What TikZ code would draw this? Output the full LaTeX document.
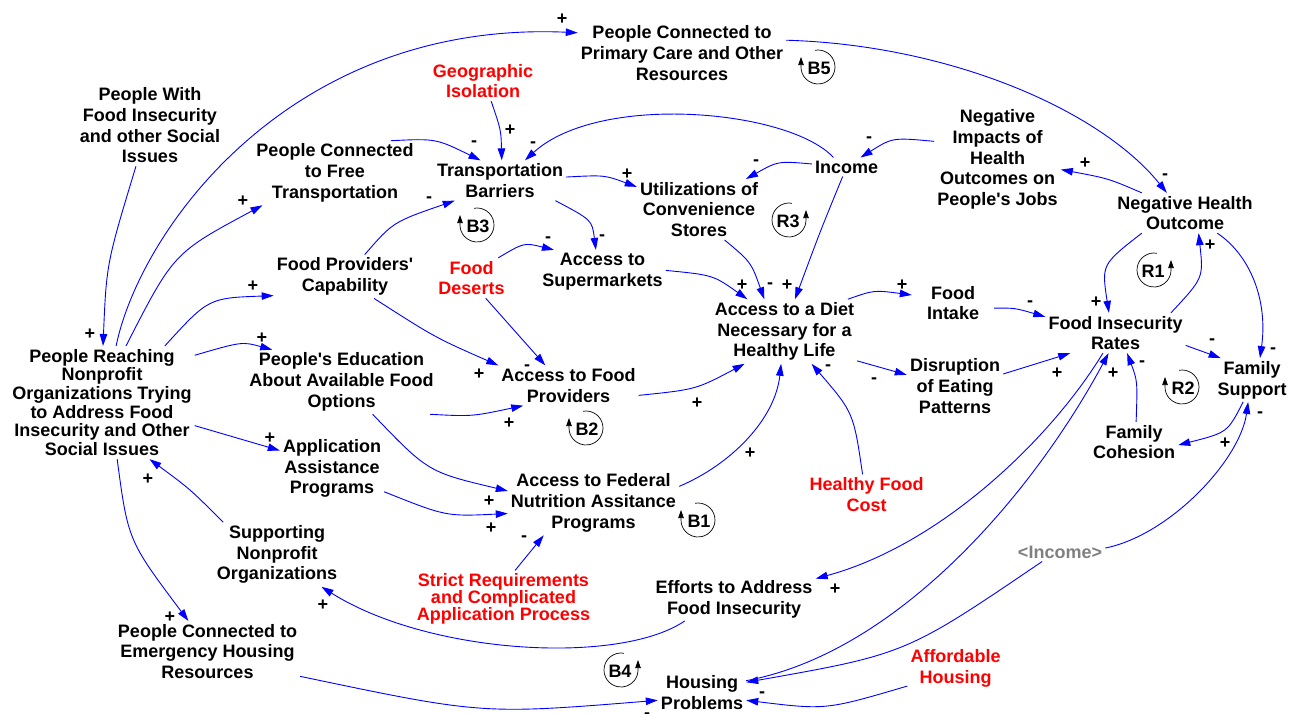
\documentclass[tikz,border=0pt]{standalone}
\usepackage{fontspec}
\setmainfont{Liberation Sans}
\usetikzlibrary{arrows.meta}
\definecolor{linkblue}{RGB}{0,0,255}
\definecolor{exored}{RGB}{255,0,0}
\definecolor{shadowgray}{RGB}{128,128,128}
\newcommand{\apos}{\textquotesingle}
\tikzset{
  var/.style={align=center, font=\fontsize{18}{20.7}\selectfont\bfseries, inner sep=3pt},
  exo/.style={var, text=exored},
  shadowvar/.style={var, text=shadowgray},
  link/.style={draw=linkblue, line width=0.9pt, -{Triangle[length=12pt,width=7.5pt]}},
  pol/.style={font=\fontsize{18}{20}\selectfont\bfseries, inner sep=0pt, anchor=base},
  loopc/.style={draw=black, line width=0.7pt, -{Triangle[length=8pt,width=5.5pt]}},
  looplabel/.style={font=\fontsize{18}{20}\selectfont\bfseries, inner sep=0pt},
}
\begin{document}
\begin{tikzpicture}[x=1pt,y=-1pt]
\fill[white] (0,0) rectangle (1298,713);
\useasboundingbox (0,0) rectangle (1298,713);

% variables
\node[var] (pcpc) at (682,53) {People Connected to\\Primary Care and Other\\Resources};
\node[exo] (geo) at (483,81) {Geographic\\Isolation};
\node[var] (pwfi) at (150,125.5) {People With\\Food Insecurity\\and other Social\\Issues};
\node[var] (pcft) at (335,173) {People Connected\\to Free\\Transportation};
\node[var] (tb) at (500,180.5) {Transportation\\Barriers};
\node[var] (ucs) at (699,209.5) {Utilizations of\\Convenience\\Stores};
\node[var] (inc) at (846.5,167) {Income};
\node[var] (nih) at (997.5,159.5) {Negative\\Impacts of\\Health\\Outcomes on\\People\apos s Jobs};
\node[var] (nho) at (1185,213) {Negative Health\\Outcome};
\node[var] (fpc) at (345,276.5) {Food Providers\apos\\Capability};
\node[exo] (fd) at (471.5,278) {Food\\Deserts};
\node[var] (ats) at (602.5,271.5) {Access to\\Supermarkets};
\node[var] (atd) at (784.5,331.5) {Access to a Diet\\Necessary for a\\Healthy Life};
\node[var, minimum width=82pt] (fin) at (953,303) {Food\\Intake};
\node[var] (fir) at (1115.5,333) {Food Insecurity\\Rates};
\node[var, font=\fontsize{18}{18.7}\selectfont\bfseries] (pr) at (102,402.5)
  {People Reaching\\Nonprofit\\Organizations Trying\\to Address Food\\Insecurity and Other\\Social Issues};
\node[var] (pe) at (341.5,382) {People\apos s Education\\About Available Food\\Options};
\node[var] (afp) at (568.5,385.5) {Access to Food\\Providers};
\node[var] (dep) at (955,386) {Disruption\\of Eating\\Patterns};
\node[var] (fs) at (1252,380) {Family\\Support};
\node[var] (fc) at (1134,442) {Family\\Cohesion};
\node[var] (aap) at (332,468.5) {Application\\Assistance\\Programs};
\node[var] (afn) at (593.5,503) {Access to Federal\\Nutrition Assitance\\Programs};
\node[exo] (hfc) at (866.5,494.5) {Healthy Food\\Cost};
\node[var] (snp) at (277,554.5) {Supporting\\Nonprofit\\Organizations};
\node[exo, font=\fontsize{18}{17}\selectfont\bfseries] (srq) at (503.5,599)
  {Strict Requirements\\and Complicated\\Application Process};
\node[shadowvar] (inc2) at (1060,552) {<Income>};
\node[var] (eff) at (734,599) {Efforts to Address\\Food Insecurity};
\node[var] (pceh) at (207.5,651.5) {People Connected to\\Emergency Housing\\Resources};
\node[exo] (ah) at (955.5,668.5) {Affordable\\Housing};
\node[var] (hp) at (702,692.5) {Housing\\Problems};

% causal links
\draw[link] (pwfi.-109) .. controls (106.5,263.5) .. (pr.89);
\draw[link] (pr.76) .. controls (140,230) and (290,20) .. (pcpc.169);
\draw[link] (pr.67) .. controls (173.5,253) .. (pcft.204);
\draw[link] (pr.42) .. controls (208.5,298) .. (fpc.195);
\draw[link] (pr.27) .. controls (242,341.5) .. (pe.155);
\draw[link] (pr.-14) -- (aap.161);
\draw[link] (pr.-75) .. controls (128,540.5) .. (pceh.122);
\draw[link] (snp.149) .. controls (190,489) .. (pr.-50);
\draw[link] (geo.-68) .. controls (501,130) .. (tb.85);
\draw[link] (pcft.30) .. controls (436,138.5) .. (tb.134);
\draw[link] (inc.144) .. controls (790,110) and (600,92) .. (tb.39);
\draw[link] (fpc.48) .. controls (393,222) .. (tb.204);
\draw[link] (tb.3) .. controls (604.5,175) .. (ucs.160);
\draw[link] (tb.-20) .. controls (592,220) .. (ats.107);
\draw[link] (inc.175) .. controls (778,161) .. (ucs.33);
\draw[link] (nih.164) .. controls (892.5,137.5) .. (inc.34);
\draw[link] (nho.155) .. controls (1108.5,178.5) .. (nih.-9);
\draw[link] (pcpc.7) .. controls (950,45) and (1100,110) .. (nho.132);
\draw[link] (inc.-112) .. controls (820.5,230.5) .. (atd.72);
\draw[link] (ucs.-50) .. controls (751,262) .. (atd.122);
\draw[link] (ats.1) .. controls (713,275) .. (atd.139);
\draw[link] (fd.37) .. controls (524,242.5) .. (ats.156);
\draw[link] (fd.-55) -- (afp.139);
\draw[link] (fpc.-37) .. controls (435,337.5) .. (afp.164);
\draw[link] (pe.-20) .. controls (472,416.5) .. (afp.204);
\draw[link] (pe.-46) .. controls (428,472) .. (afn.172);
\draw[link] (aap.-24) .. controls (446,516.5) .. (afn.187);
\draw[link] (srq.68) -- (afn.213);
\draw[link] (afp.-8) .. controls (696,389.5) .. (atd.219);
\draw[link] (afn.11) .. controls (730,465) and (775,420) .. (atd.264);
\draw[link] (hfc.101) .. controls (853.5,412.5) .. (atd.-50);
\draw[link] (atd.27) .. controls (874,290) .. (fin.169);
\draw[link] (atd.-22) -- (dep.167);
\draw[link] (fin.-7) .. controls (1015,308) .. (fir.167);
\draw[link] (dep.14) -- (fir.204);
\draw[link] (nho.205) .. controls (1101.5,264.5) .. (fir.108);
\draw[link] (fir.20) .. controls (1203.5,278) .. (nho.-56);
\draw[link] (nho.-32) .. controls (1250,255) and (1268,300) .. (fs.70);
\draw[link] (fir.-10) -- (fs.145);
\draw[link] (fs.-112) .. controls (1227.5,432.5) .. (fc.-4);
\draw[link] (fc.84) .. controls (1137.5,381) .. (fir.-60);
\draw[link] (fir.238) .. controls (1050,440) and (940,545) .. (eff.14);
\draw[link] (hp.15) .. controls (900,652) and (1035,490) .. (fir.-109);
\draw[link] (inc2.208) .. controls (906,654) .. (hp.13);
\draw[link] (inc2.5) .. controls (1170,535) and (1240,460) .. (fs.-100);
\draw[link] (eff.204) .. controls (620,665) and (430,655) .. (snp.-36);
\draw[link] (pceh.-15) .. controls (482,714.5) .. (hp.190);
\draw[link] (ah.200) .. controls (826,710) .. (hp.-10);

% polarities
\foreach \x/\y [count=\i] in {90/333, 562/18, 243/200, 253/285, 262/337, 270/437, 148/478,
  170/616, 510/129, 627/173, 1085/162, 787/284, 742/284, 479/373, 509/422, 697/402,
  750/452, 489/500, 491/527, 902/284, 1057/372, 1096/301, 1210/244, 1113/372,
  1225/442, 835/588, 323/604}
  \node[pol] (plus\i) at (\x,\y+6.4) {+};
\foreach \x/\y [count=\i] in {474/142, 533/143, 429/198, 602/236, 756/161, 869/138,
  1165/175, 770/284, 548/238, 527/366, 828/366, 524/537, 874/379, 1030/302,
  1273/349, 1212/340, 1142/362, 1260/413, 762/693, 647/714}
  \node[pol] (minus\i) at (\x,\y+4.5) {-};

% loop markers: arrow on the left, tip pointing up
\foreach \cx/\cy/\lab in {818/67/B5, 477/225/B3, 586/428/B2, 1182/387/R2, 698/520/B1}{
  \draw[loopc] (\cx,\cy) ++(-100:17) arc[start angle=-100, end angle=180, radius=17] -- ++(0,-10);
  \node[looplabel] (loop\lab) at (\cx+1,\cy+1) {\lab};
}
% loop markers: arrow on the right, tip pointing up
\foreach \cx/\cy/\lab in {789/220/R3, 1154/270/R1, 621/670/B4}{
  \draw[loopc] (\cx,\cy) ++(-80:17) arc[start angle=-80, end angle=-360, radius=17] -- ++(0,-10);
  \node[looplabel] (loop\lab) at (\cx-1,\cy+1) {\lab};
}
\end{tikzpicture}
\end{document}
